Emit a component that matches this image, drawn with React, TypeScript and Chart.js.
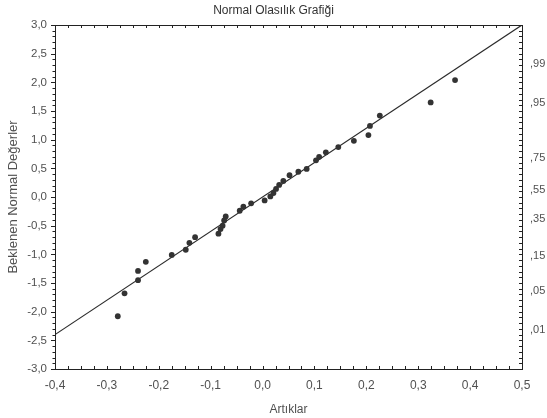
import React, { useEffect, useRef } from "react";
import { Chart, registerables } from "chart.js";

Chart.register(...registerables);

// Residuals (x) and expected normal values (y)
const residuals = [
  -0.279, -0.266, -0.240, -0.240, -0.225, -0.175, -0.148, -0.141, -0.130,
  -0.085, -0.081, -0.077, -0.074, -0.071, -0.044, -0.037, -0.022, 0.004,
  0.015, 0.021, 0.026, 0.032, 0.040, 0.052, 0.069, 0.085, 0.103, 0.109,
  0.122, 0.146, 0.176, 0.204, 0.207, 0.226, 0.324, 0.371,
];
const expectedNormal = [
  -2.08, -1.68, -1.45, -1.29, -1.13, -1.01, -0.92, -0.80, -0.70,
  -0.64, -0.56, -0.50, -0.41, -0.34, -0.24, -0.17, -0.11, -0.06,
  0.01, 0.07, 0.14, 0.21, 0.28, 0.38, 0.44, 0.49, 0.64, 0.70,
  0.78, 0.87, 0.98, 1.08, 1.24, 1.42, 1.65, 2.04,
];

// Reference line
const lineX = [-0.4, 0.5];
const lineY = [-2.4, 3.0];

// Right-hand probability axis
const probLabels = [",99", ",95", ",75", ",55", ",35", ",15", ",05", ",01"];
const probValues = [2.326, 1.645, 0.674, 0.126, -0.385, -1.036, -1.645, -2.326];

const titleText = "Normal Olasılık Grafiği";
const xTitle = "Artıklar";
const yTitle = "Beklenen Normal Değerler";

const FONT = "'Liberation Sans', Arial, sans-serif";
const TEXT = "#505050";

const fmt = (v: number) => {
  const r = Math.round(v * 10) / 10;
  return (r === 0 ? 0 : r).toFixed(1).replace(".", ",");
};

const framePlugin = {
  id: "frame",
  afterDraw(chart: any) {
    const { ctx, chartArea: a, scales } = chart;
    const xs = scales.x;
    const ys = scales.y;
    ctx.save();
    ctx.strokeStyle = "#222";
    ctx.lineWidth = 1;
    ctx.strokeRect(
      Math.round(a.left) + 0.5,
      Math.round(a.top) + 0.5,
      Math.round(a.right - a.left),
      Math.round(a.bottom - a.top)
    );
    ctx.beginPath();
    for (let i = 0; i <= 36; i++) {
      const v = -0.4 + i * 0.025;
      const px = Math.round(xs.getPixelForValue(v)) + 0.5;
      ctx.moveTo(px, a.top);
      ctx.lineTo(px, a.top + 3);
      ctx.moveTo(px, a.bottom);
      ctx.lineTo(px, a.bottom - 3);
    }
    for (let i = 0; i <= 60; i++) {
      const v = -3 + i * 0.1;
      const py = Math.round(ys.getPixelForValue(v)) + 0.5;
      const len = i % 5 === 0 ? 4 : 2.5;
      ctx.moveTo(a.left - len, py);
      ctx.lineTo(a.left, py);
      ctx.moveTo(a.right, py);
      ctx.lineTo(a.right - 3, py);
    }
    ctx.stroke();
    ctx.restore();
  },
};

export default function App() {
  const ref = useRef<HTMLCanvasElement | null>(null);

  useEffect(() => {
    document.body.style.margin = "0";
    const canvas = ref.current;
    if (!canvas) return;
    const points = residuals.map((x, i) => ({ x, y: expectedNormal[i] }));
    const linePts = lineX.map((x, i) => ({ x, y: lineY[i] }));

    const chart = new Chart(canvas, {
      type: "scatter",
      data: {
        datasets: [
          {
            data: points,
            pointRadius: 2.9,
            pointBackgroundColor: "#333",
            pointBorderWidth: 0,
            showLine: false,
          },
          {
            data: linePts,
            showLine: true,
            pointRadius: 0,
            borderColor: "#2a2a2a",
            borderWidth: 1.2,
            fill: false,
          },
        ],
      },
      options: {
        animation: false,
        responsive: false,
        devicePixelRatio: 1,
        layout: { padding: 0 },
        plugins: {
          legend: { display: false },
          tooltip: { enabled: false },
          title: {
            display: true,
            text: titleText,
            color: "#333",
            font: { family: FONT, size: 12, weight: "normal" },
            padding: { top: 3, bottom: 7.6 },
          },
        },
        scales: {
          x: {
            type: "linear",
            min: -0.4,
            max: 0.5,
            grid: { display: false, drawTicks: false },
            border: { display: false },
            ticks: {
              stepSize: 0.1,
              padding: 9,
              color: TEXT,
              font: { family: FONT, size: 12 },
              callback: (v: any) => fmt(Number(v)),
            },
            title: {
              display: true,
              text: xTitle,
              color: TEXT,
              font: { family: FONT, size: 12 },
              padding: { top: 0, bottom: 1 },
            },
            afterFit: (s: any) => {
              s.height = 49;
            },
          },
          y: {
            type: "linear",
            position: "left",
            min: -3,
            max: 3,
            grid: { display: false, drawTicks: false },
            border: { display: false },
            ticks: {
              stepSize: 0.5,
              padding: 8,
              color: TEXT,
              font: { family: FONT, size: 11.5 },
              callback: (v: any) => fmt(Number(v)),
            },
            title: {
              display: true,
              text: yTitle,
              color: TEXT,
              font: { family: FONT, size: 13 },
              padding: { top: 6, bottom: 0 },
            },
            afterFit: (s: any) => {
              s.width = 55;
            },
          },
          y2: {
            type: "linear",
            position: "right",
            min: -3,
            max: 3,
            grid: { display: false, drawTicks: false },
            border: { display: false },
            afterBuildTicks: (s: any) => {
              s.ticks = probValues.map((v) => ({ value: v }));
            },
            ticks: {
              autoSkip: false,
              padding: 8,
              color: TEXT,
              font: { family: FONT, size: 11 },
              callback: (_v: any, i: number) => probLabels[i],
            },
            afterFit: (s: any) => {
              s.width = 25;
            },
          },
        },
      },
      plugins: [framePlugin],
    });
    return () => chart.destroy();
  }, []);

  return (
    <div style={{ width: 547, height: 418, background: "#fff" }}>
      <canvas ref={ref} width={547} height={418} style={{ width: 547, height: 418, display: "block" }} />
    </div>
  );
}
